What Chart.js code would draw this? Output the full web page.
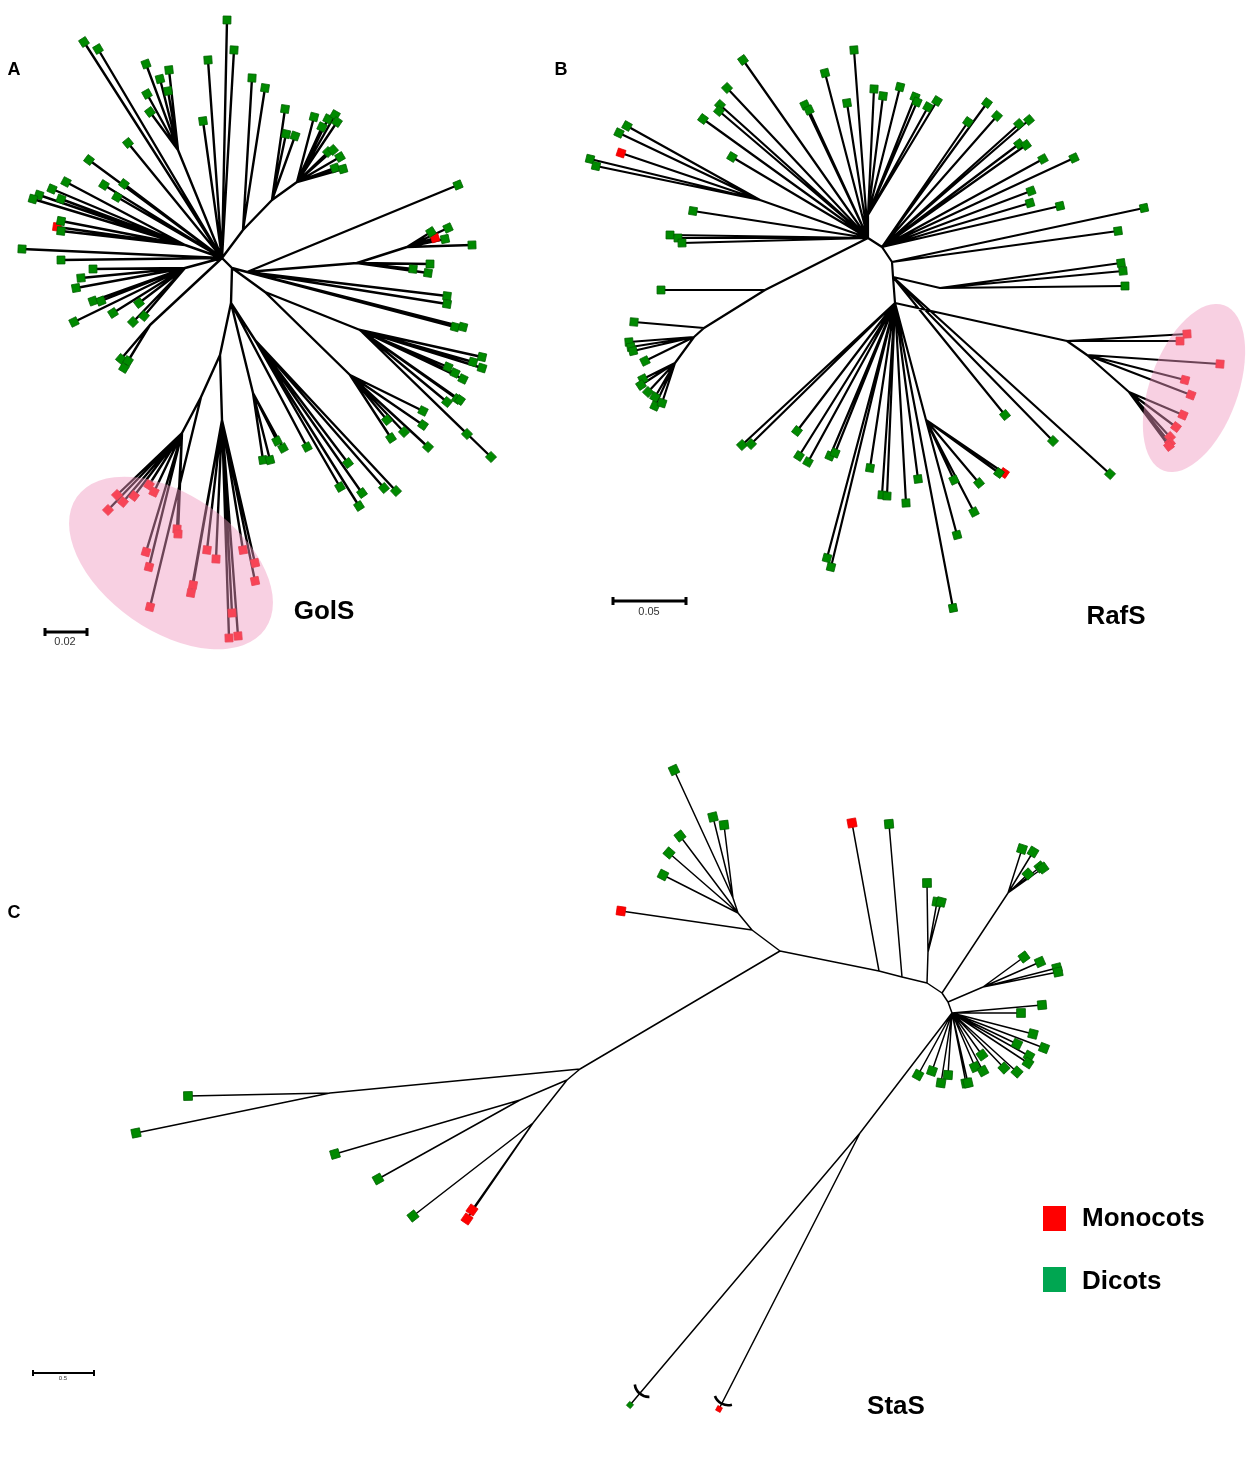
<!DOCTYPE html>
<html>
<head>
<meta charset="utf-8">
<script src="https://cdn.jsdelivr.net/npm/chart.js@4.4.1/dist/chart.umd.min.js"></script>
<style>
  html, body { margin: 0; padding: 0; background: #fff; }
  #wrap { position: relative; width: 1260px; height: 1481px; overflow: hidden; font-family: "Liberation Sans", Arial, sans-serif; }
  #tree { position: absolute; left: 0; top: 0; }
  .lbl { position: absolute; transform: translate(-50%, -50%); font-weight: bold; color: #000; white-space: nowrap; line-height: 1; }
  .panel { font-size: 18px; }
  .name { font-size: 26px; }
  .scale { font-weight: normal; color: #333; font-size: 11px; }
  .key { position: absolute; width: 23px; height: 25px; }
  .keytext { position: absolute; font-size: 26px; font-weight: bold; transform: translateY(-50%); line-height: 1; }
</style>
</head>
<body>
<div id="wrap">
  <canvas id="tree" width="1260" height="1481"></canvas>

  <div class="lbl panel" style="left:14px;top:69px">A</div>
  <div class="lbl panel" style="left:561px;top:69px">B</div>
  <div class="lbl panel" style="left:14px;top:912px">C</div>

  <div class="lbl name" style="left:324px;top:610px">GolS</div>
  <div class="lbl name" style="left:1116px;top:615px">RafS</div>
  <div class="lbl name" style="left:896px;top:1405px">StaS</div>

  <div class="lbl scale" style="left:65px;top:641px">0.02</div>
  <div class="lbl scale" style="left:649px;top:611px">0.05</div>
  <div class="lbl scale" style="left:63px;top:1378px;font-size:6px">0.5</div>

  <div class="key" style="left:1043px;top:1206px;background:#ff0000"></div>
  <div class="keytext" style="left:1082px;top:1217px">Monocots</div>
  <div class="key" style="left:1043px;top:1267px;background:#00a651"></div>
  <div class="keytext" style="left:1082px;top:1280px">Dicots</div>
</div>

<script>
// Tree A (GolS): internal nodes [x, y, parent], tips [x, y, parent, group]
const golsNodes = [
  [222, 258, -1], [232, 268, 0], [231, 303, 1], [247, 272, 1], [243, 230, 0],
  [272, 200, 4], [297, 182, 5], [178, 150, 0], [185, 245, 0], [185, 268, 0],
  [150, 325, 0], [357, 263, 3], [407, 247, 11], [265, 292, 1], [350, 375, 13],
  [360, 330, 13], [253, 393, 2], [255, 340, 2], [220, 355, 2], [201, 397, 18],
  [182, 433, 19], [222, 420, 18]
];
const golsTips = [
  [227, 20, 0, 'd'], [234, 50, 0, 'd'], [208, 60, 0, 'd'], [203, 121, 0, 'd'],
  [84, 42, 0, 'd'], [98, 49, 0, 'd'], [128, 143, 0, 'd'], [89, 160, 0, 'd'],
  [104, 185, 0, 'd'], [124, 184, 0, 'd'], [117, 197, 0, 'd'], [22, 249, 0, 'd'],
  [61, 260, 0, 'd'],
  [146, 64, 7, 'd'], [160, 79, 7, 'd'], [169, 70, 7, 'd'], [168, 91, 7, 'd'],
  [147, 94, 7, 'd'], [150, 112, 7, 'd'],
  [52, 189, 8, 'd'], [39, 195, 8, 'd'], [33, 199, 8, 'd'], [61, 199, 8, 'd'],
  [66, 182, 8, 'd'], [61, 221, 8, 'd'], [57, 227, 8, 'm'], [61, 231, 8, 'd'],
  [93, 269, 9, 'd'], [81, 278, 9, 'd'], [76, 288, 9, 'd'], [93, 301, 9, 'd'],
  [101, 301, 9, 'd'], [139, 303, 9, 'd'], [113, 313, 9, 'd'], [74, 322, 9, 'd'],
  [133, 322, 9, 'd'], [144, 316, 9, 'd'],
  [121, 359, 10, 'd'], [128, 361, 10, 'd'], [124, 368, 10, 'd'],
  [252, 78, 4, 'd'], [265, 88, 4, 'd'],
  [285, 109, 5, 'd'], [286, 134, 5, 'd'], [295, 136, 5, 'd'],
  [314, 117, 6, 'd'], [322, 127, 6, 'd'], [328, 119, 6, 'd'], [335, 115, 6, 'd'],
  [337, 122, 6, 'd'], [328, 152, 6, 'd'], [333, 150, 6, 'd'], [340, 157, 6, 'd'],
  [335, 168, 6, 'd'], [343, 169, 6, 'd'],
  [458, 185, 3, 'd'], [447, 296, 3, 'd'], [447, 304, 3, 'd'], [455, 327, 3, 'd'],
  [463, 327, 3, 'd'],
  [430, 264, 11, 'd'], [413, 269, 11, 'd'], [428, 273, 11, 'd'],
  [431, 232, 12, 'd'], [448, 228, 12, 'd'], [435, 238, 12, 'm'], [445, 239, 12, 'd'],
  [472, 245, 12, 'd'],
  [387, 420, 14, 'd'], [391, 438, 14, 'd'], [404, 432, 14, 'd'], [423, 411, 14, 'd'],
  [423, 425, 14, 'd'], [428, 447, 14, 'd'],
  [447, 402, 15, 'd'], [457, 399, 15, 'd'], [460, 400, 15, 'd'], [467, 434, 15, 'd'],
  [491, 457, 15, 'd'], [448, 367, 15, 'd'], [455, 373, 15, 'd'], [463, 379, 15, 'd'],
  [473, 362, 15, 'd'], [482, 357, 15, 'd'], [482, 368, 15, 'd'],
  [263, 460, 16, 'd'], [270, 460, 16, 'd'], [277, 441, 16, 'd'], [283, 448, 16, 'd'],
  [307, 447, 2, 'd'],
  [348, 463, 17, 'd'], [340, 487, 17, 'd'], [362, 493, 17, 'd'], [359, 506, 17, 'd'],
  [384, 488, 17, 'd'], [396, 491, 17, 'd'],
  [108, 510, 20, 'm'], [117, 495, 20, 'm'], [123, 502, 20, 'm'], [134, 496, 20, 'm'],
  [149, 485, 20, 'm'], [154, 492, 20, 'm'], [177, 529, 20, 'm'], [178, 534, 20, 'm'],
  [146, 552, 20, 'm'], [149, 567, 20, 'm'],
  [150, 607, 19, 'm'],
  [193, 585, 21, 'm'], [191, 593, 21, 'm'], [207, 550, 21, 'm'], [216, 559, 21, 'm'],
  [243, 550, 21, 'm'], [255, 563, 21, 'm'], [255, 581, 21, 'm'], [232, 613, 21, 'm'],
  [229, 638, 21, 'm'], [238, 636, 21, 'm']
];

// Tree B (RafS)
const rafsNodes = [
  [868, 238, -1], [882, 247, 0], [892, 262, 1], [893, 277, 2], [895, 303, 3],
  [765, 290, 0], [704, 328, 5], [694, 337, 6], [675, 363, 7], [868, 215, 0],
  [940, 288, 3], [1067, 341, 4], [1087, 355, 11], [1129, 392, 12], [760, 200, 0],
  [926, 420, 4]
];
const rafsTips = [
  [743, 60, 0, 'd'], [854, 50, 0, 'd'], [825, 73, 0, 'd'], [727, 88, 0, 'd'],
  [720, 105, 0, 'd'], [719, 111, 0, 'd'], [703, 119, 0, 'd'], [805, 105, 0, 'd'],
  [809, 110, 0, 'd'], [847, 103, 0, 'd'], [732, 157, 0, 'd'], [693, 211, 0, 'd'],
  [670, 235, 0, 'd'], [678, 238, 0, 'd'], [682, 243, 0, 'd'],
  [627, 126, 14, 'd'], [619, 133, 14, 'd'], [621, 153, 14, 'm'], [590, 159, 14, 'd'],
  [596, 166, 14, 'd'],
  [874, 89, 9, 'd'], [883, 96, 9, 'd'], [900, 87, 9, 'd'], [915, 97, 9, 'd'],
  [917, 102, 9, 'd'], [928, 107, 9, 'd'], [937, 101, 9, 'd'],
  [987, 103, 1, 'd'], [997, 116, 1, 'd'], [968, 122, 1, 'd'], [1019, 124, 1, 'd'],
  [1029, 120, 1, 'd'], [1019, 144, 1, 'd'], [1026, 145, 1, 'd'], [1043, 159, 1, 'd'],
  [1074, 158, 1, 'd'], [1031, 191, 1, 'd'], [1030, 203, 1, 'd'], [1060, 206, 1, 'd'],
  [1144, 208, 2, 'd'], [1118, 231, 2, 'd'],
  [1121, 263, 10, 'd'], [1123, 271, 10, 'd'], [1125, 286, 10, 'd'],
  [661, 290, 5, 'd'], [634, 322, 6, 'd'],
  [629, 342, 7, 'd'], [631, 347, 7, 'd'], [633, 351, 7, 'd'], [645, 361, 7, 'd'],
  [643, 379, 8, 'd'], [641, 385, 8, 'd'], [648, 392, 8, 'd'], [655, 397, 8, 'd'],
  [655, 406, 8, 'd'], [662, 403, 8, 'd'],
  [1187, 334, 11, 'm'], [1180, 341, 11, 'm'],
  [1220, 364, 12, 'm'], [1185, 380, 12, 'm'], [1191, 395, 12, 'm'],
  [1183, 415, 13, 'm'], [1176, 427, 13, 'm'], [1170, 437, 13, 'm'], [1170, 443, 13, 'm'],
  [1169, 446, 13, 'm'],
  [1005, 415, 3, 'd'], [1053, 441, 3, 'd'], [1110, 474, 3, 'd'],
  [742, 445, 4, 'd'], [751, 444, 4, 'd'], [797, 431, 4, 'd'], [799, 456, 4, 'd'],
  [808, 462, 4, 'd'], [830, 456, 4, 'd'], [835, 453, 4, 'd'], [870, 468, 4, 'd'],
  [882, 495, 4, 'd'], [887, 496, 4, 'd'], [906, 503, 4, 'd'], [918, 479, 4, 'd'],
  [827, 558, 4, 'd'], [831, 567, 4, 'd'], [953, 608, 4, 'd'],
  [954, 480, 15, 'd'], [979, 483, 15, 'd'], [1004, 473, 15, 'm'], [999, 473, 15, 'd'],
  [974, 512, 15, 'd'], [957, 535, 15, 'd']
];

// Tree C (StaS); a fifth value marks a shortened (broken) branch
const stasNodes = [
  [780, 951, -1], [752, 930, 0], [738, 913, 1], [733, 898, 2], [879, 971, 0],
  [902, 977, 4], [927, 983, 5], [928, 952, 6], [942, 993, 6], [1008, 893, 8],
  [948, 1002, 8], [952, 1013, 10], [983, 987, 10], [860, 1133, 11], [580, 1069, 0],
  [330, 1093, 14], [567, 1080, 14], [520, 1100, 16], [533, 1123, 16]
];
const stasTips = [
  [621, 911, 1, 'm'],
  [663, 875, 2, 'd'], [669, 853, 2, 'd'], [680, 836, 2, 'd'],
  [674, 770, 3, 'd'], [713, 817, 3, 'd'], [724, 825, 3, 'd'],
  [852, 823, 4, 'm'], [889, 824, 5, 'd'],
  [927, 883, 7, 'd'], [937, 902, 7, 'd'], [941, 902, 7, 'd'],
  [1022, 849, 9, 'd'], [1033, 852, 9, 'd'], [1028, 874, 9, 'd'], [1040, 867, 9, 'd'],
  [1043, 868, 9, 'd'],
  [1024, 957, 12, 'd'], [1040, 962, 12, 'd'], [1057, 968, 12, 'd'], [1058, 972, 12, 'd'],
  [1042, 1005, 11, 'd'], [1021, 1013, 11, 'd'], [1033, 1034, 11, 'd'], [1044, 1048, 11, 'd'],
  [1017, 1044, 11, 'd'], [1029, 1056, 11, 'd'], [1028, 1063, 11, 'd'], [1017, 1072, 11, 'd'],
  [1004, 1068, 11, 'd'], [982, 1055, 11, 'd'], [975, 1067, 11, 'd'], [983, 1071, 11, 'd'],
  [966, 1083, 11, 'd'], [968, 1083, 11, 'd'], [948, 1075, 11, 'd'], [941, 1083, 11, 'd'],
  [932, 1071, 11, 'd'], [918, 1075, 11, 'd'],
  [630, 1405, 13, 'd', 15], [719, 1409, 13, 'm', 6],
  [188, 1096, 15, 'd'], [136, 1133, 15, 'd'],
  [335, 1154, 17, 'd'], [378, 1179, 17, 'd'],
  [413, 1216, 18, 'd'], [472, 1210, 18, 'm'], [467, 1219, 18, 'm']
];

// drawing styles per tree
const trees = [
  { nodes: golsNodes, tips: golsTips, lineWidth: 2.4, radius: 5.6 },
  { nodes: rafsNodes, tips: rafsTips, lineWidth: 2.2, radius: 5.6 },
  { nodes: stasNodes, tips: stasTips, lineWidth: 1.5, radius: 6.2 }
];

// translucent clade highlights and scale bars (in chart units)
const highlights = [
  { cx: 171, cy: 563, rx: 115, ry: 68, rot: 35 },
  { cx: 1194, cy: 388, rx: 44, ry: 88, rot: 20 }
];
const scaleBars = [
  { x1: 45, x2: 87, y: 632, w: 3, tick: 4 },
  { x1: 613, x2: 686, y: 601, w: 3, tick: 4 },
  { x1: 33, x2: 94, y: 1373, w: 2, tick: 3 }
];

const groupColor = { d: '#008a00', m: '#ff0000' };
const groupBorder = { d: '#006000', m: '#e00000' };

function edgeData(nodes, tips) {
  const pts = [];
  const link = (from, to) => {
    pts.push({ x: from[0], y: from[1] }, { x: to[0], y: to[1] }, { x: to[0], y: null });
  };
  nodes.forEach(n => { if (n[2] >= 0) link(nodes[n[2]], n); });
  tips.forEach(t => link(nodes[t[2]], t));
  return pts;
}

function tipAngle(nodes, t) {
  const p = nodes[t[2]];
  return Math.atan2(t[1] - p[1], t[0] - p[0]) * 180 / Math.PI;
}

const datasets = [];
trees.forEach(tree => {
  ['d', 'm'].forEach(g => {
    const list = tree.tips.filter(t => t[3] === g);
    if (!list.length) return;
    datasets.push({
      data: list.map(t => ({ x: t[0], y: t[1] })),
      showLine: false,
      pointStyle: 'rect',
      pointRadius: list.map(t => t[4] ? 3.6 : tree.radius),
      pointRotation: list.map(t => tipAngle(tree.nodes, t)),
      backgroundColor: groupColor[g],
      borderColor: groupBorder[g],
      borderWidth: 0.8,
      order: 0
    });
  });
  datasets.push({
    data: edgeData(tree.nodes, tree.tips),
    showLine: true,
    spanGaps: false,
    pointRadius: 0,
    borderColor: '#000',
    borderWidth: tree.lineWidth,
    borderCapStyle: 'round',
    order: 1
  });
});

const overlayPlugin = {
  id: 'overlay',
  afterDatasetsDraw(chart) {
    const { ctx, scales: { x, y } } = chart;
    const px = v => x.getPixelForValue(v);
    const py = v => y.getPixelForValue(v);
    ctx.save();

    // branch breaks on the two long StaS branches
    ctx.strokeStyle = '#000';
    ctx.lineWidth = 2.6;
    stasTips.filter(t => t[4]).forEach(t => {
      const p = stasNodes[t[2]];
      const a = Math.atan2(py(t[1]) - py(p[1]), px(t[0]) - px(p[0]));
      const R = 14;
      const cx = px(t[0]) - Math.cos(a) * (t[4] + R);
      const cy = py(t[1]) - Math.sin(a) * (t[4] + R);
      ctx.beginPath();
      ctx.arc(cx, cy, R, a - 0.75, a + 0.75);
      ctx.stroke();
    });

    // scale bars
    scaleBars.forEach(b => {
      ctx.lineWidth = b.w;
      ctx.beginPath();
      ctx.moveTo(px(b.x1), py(b.y));
      ctx.lineTo(px(b.x2), py(b.y));
      [b.x1, b.x2].forEach(xv => {
        ctx.moveTo(px(xv), py(b.y) - b.tick);
        ctx.lineTo(px(xv), py(b.y) + b.tick);
      });
      ctx.stroke();
    });

    // pink clade highlights
    ctx.fillStyle = 'rgba(240, 150, 190, 0.45)';
    highlights.forEach(h => {
      const rx = Math.abs(px(h.cx + h.rx) - px(h.cx));
      const ry = Math.abs(py(h.cy + h.ry) - py(h.cy));
      ctx.beginPath();
      ctx.ellipse(px(h.cx), py(h.cy), rx, ry, h.rot * Math.PI / 180, 0, Math.PI * 2);
      ctx.fill();
    });
    ctx.restore();
  }
};

new Chart(document.getElementById('tree'), {
  type: 'scatter',
  data: { datasets },
  options: {
    responsive: false,
    animation: false,
    layout: { padding: 0, autoPadding: false },
    plugins: { legend: { display: false }, tooltip: { enabled: false } },
    scales: {
      x: { type: 'linear', min: 0, max: 1260, display: false },
      y: { type: 'linear', min: 0, max: 1481, reverse: true, display: false }
    }
  },
  plugins: [overlayPlugin]
});
</script>
</body>
</html>
